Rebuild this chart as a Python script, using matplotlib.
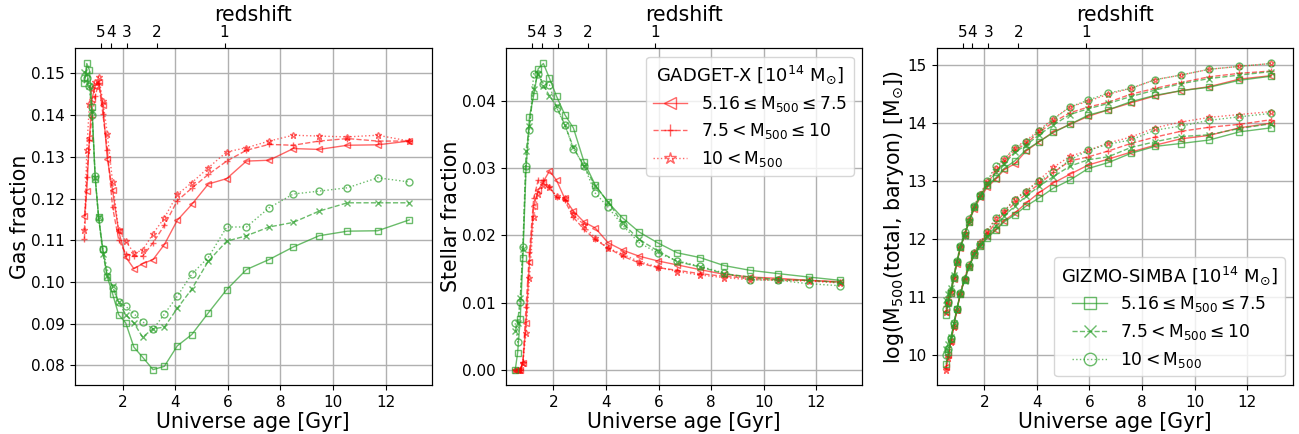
import matplotlib.pyplot as plt

# universe age of each snapshot [Gyr]
age = [0.55, 0.64, 0.74, 0.84, 0.96, 1.09, 1.25, 1.42, 1.62, 1.85, 2.12, 2.43, 2.76,
       3.16, 3.59, 4.08, 4.63, 5.26, 5.96, 6.71, 7.57, 8.49, 9.47, 10.55, 11.70, 12.90]

# redshift ticks on the top axis
z_labels = [5, 4, 3, 2, 1]
z_age = [1.18, 1.55, 2.16, 3.30, 5.88]

# gas fraction
gas_gx_1 = [0.1158, 0.1218, 0.1345, 0.1440, 0.1470, 0.1480, 0.1424, 0.1296, 0.1220, 0.1122, 0.1060, 0.1032, 0.1044,
            0.1054, 0.1090, 0.1148, 0.1186, 0.1235, 0.1248, 0.1290, 0.1292, 0.1320, 0.1318, 0.1328, 0.1329, 0.1338]
gas_gx_2 = [0.1104, 0.1252, 0.1340, 0.1396, 0.1445, 0.1478, 0.1404, 0.1316, 0.1180, 0.1102, 0.1068, 0.1062, 0.1062,
            0.1094, 0.1136, 0.1195, 0.1225, 0.1258, 0.1290, 0.1316, 0.1330, 0.1328, 0.1338, 0.1344, 0.1338, 0.1338]
gas_gx_3 = [0.1124, 0.1316, 0.1428, 0.1464, 0.1480, 0.1492, 0.1434, 0.1356, 0.1240, 0.1124, 0.1098, 0.1070, 0.1076,
            0.1116, 0.1154, 0.1210, 0.1238, 0.1274, 0.1312, 0.1322, 0.1338, 0.1352, 0.1350, 0.1348, 0.1352, 0.1338]
gas_gs_1 = [0.1478, 0.1524, 0.1508, 0.1420, 0.1248, 0.1156, 0.1080, 0.1012, 0.0972, 0.0922, 0.0902, 0.0844, 0.0820,
            0.0790, 0.0798, 0.0847, 0.0874, 0.0926, 0.0982, 0.1030, 0.1054, 0.1084, 0.1111, 0.1122, 0.1123, 0.1149]
gas_gs_2 = [0.1504, 0.1498, 0.1470, 0.1408, 0.1250, 0.1155, 0.1068, 0.1015, 0.0990, 0.0952, 0.0922, 0.0902, 0.0868,
            0.0888, 0.0892, 0.0937, 0.0983, 0.1050, 0.1098, 0.1111, 0.1132, 0.1143, 0.1170, 0.1190, 0.1190, 0.1190]
gas_gs_3 = [0.1490, 0.1488, 0.1470, 0.1400, 0.1255, 0.1152, 0.1080, 0.1030, 0.0986, 0.0952, 0.0942, 0.0924, 0.0905,
            0.0887, 0.0923, 0.0966, 0.1019, 0.1059, 0.1132, 0.1132, 0.1178, 0.1211, 0.1218, 0.1226, 0.1250, 0.1240]

# stellar fraction
star_gx_1 = [0.0, 0.0, 0.0, 0.0010, 0.0070, 0.0160, 0.0243, 0.0267, 0.0280, 0.0296, 0.0282, 0.0255, 0.0236,
             0.0220, 0.0211, 0.0189, 0.0178, 0.0169, 0.0162, 0.0156, 0.0149, 0.0142, 0.0138, 0.0136, 0.0133, 0.0131]
star_gx_2 = [0.0, 0.0, 0.0, 0.0012, 0.0094, 0.0175, 0.0255, 0.0282, 0.0282, 0.0272, 0.0257, 0.0252, 0.0227,
             0.0209, 0.0194, 0.0181, 0.0169, 0.0159, 0.0152, 0.0148, 0.0143, 0.0139, 0.0136, 0.0134, 0.0133, 0.0130]
star_gx_3 = [0.0, 0.0, 0.0, 0.0010, 0.0055, 0.0137, 0.0227, 0.0262, 0.0275, 0.0272, 0.0258, 0.0255, 0.0232,
             0.0215, 0.0196, 0.0181, 0.0172, 0.0161, 0.0153, 0.0146, 0.0141, 0.0137, 0.0134, 0.0133, 0.0132, 0.0129]
star_gs_1 = [0.0, 0.0025, 0.0076, 0.0167, 0.0299, 0.0377, 0.0408, 0.0448, 0.0456, 0.0434, 0.0407, 0.0380, 0.0360,
             0.0310, 0.0275, 0.0249, 0.0226, 0.0205, 0.0189, 0.0174, 0.0167, 0.0155, 0.0148, 0.0143, 0.0138, 0.0133]
star_gs_2 = [0.0057, 0.0070, 0.0107, 0.0180, 0.0326, 0.0363, 0.0418, 0.0441, 0.0423, 0.0408, 0.0392, 0.0365, 0.0331,
             0.0303, 0.0274, 0.0250, 0.0218, 0.0194, 0.0177, 0.0161, 0.0153, 0.0143, 0.0138, 0.0134, 0.0133, 0.0130]
star_gs_3 = [0.0069, 0.0041, 0.0101, 0.0183, 0.0304, 0.0357, 0.0441, 0.0440, 0.0426, 0.0424, 0.0390, 0.0365, 0.0329,
             0.0304, 0.0263, 0.0242, 0.0215, 0.0189, 0.0174, 0.0162, 0.0154, 0.0144, 0.0134, 0.0133, 0.0128, 0.0125]

# log M500 total
tot_gx_1 = [10.75, 10.92, 11.08, 11.32, 11.58, 11.85, 12.07, 12.30, 12.52, 12.72, 12.90, 13.03, 13.20,
            13.30, 13.52, 13.68, 13.85, 13.98, 14.12, 14.23, 14.35, 14.47, 14.56, 14.63, 14.76, 14.82]
tot_gx_2 = [10.85, 11.00, 11.12, 11.35, 11.60, 11.86, 12.06, 12.30, 12.55, 12.75, 12.96, 13.17, 13.33,
            13.53, 13.65, 13.84, 14.02, 14.18, 14.28, 14.36, 14.50, 14.60, 14.70, 14.80, 14.86, 14.90]
tot_gx_3 = [10.75, 10.90, 11.10, 11.35, 11.62, 11.88, 12.10, 12.35, 12.58, 12.78, 13.00, 13.22, 13.38,
            13.58, 13.70, 13.88, 14.08, 14.28, 14.38, 14.50, 14.60, 14.75, 14.83, 14.93, 14.98, 15.03]
tot_gs_1 = [10.70, 10.90, 11.08, 11.33, 11.60, 11.86, 12.08, 12.30, 12.55, 12.74, 12.93, 13.05, 13.22,
            13.35, 13.54, 13.68, 13.84, 13.98, 14.14, 14.23, 14.37, 14.48, 14.56, 14.62, 14.74, 14.81]
tot_gs_2 = [10.95, 11.05, 11.15, 11.38, 11.60, 11.87, 12.05, 12.30, 12.55, 12.75, 12.95, 13.15, 13.30,
            13.50, 13.62, 13.80, 13.97, 14.15, 14.25, 14.34, 14.46, 14.57, 14.68, 14.77, 14.83, 14.89]
tot_gs_3 = [10.80, 10.92, 11.10, 11.35, 11.62, 11.88, 12.12, 12.35, 12.58, 12.77, 13.00, 13.27, 13.38,
            13.57, 13.68, 13.86, 14.07, 14.28, 14.40, 14.52, 14.60, 14.75, 14.83, 14.93, 14.98, 15.03]

# log M500 baryon
bar_gx_1 = [9.80, 10.00, 10.25, 10.50, 10.78, 11.05, 11.30, 11.52, 11.73, 11.88, 12.05, 12.16, 12.32,
            12.45, 12.62, 12.80, 12.97, 13.12, 13.28, 13.38, 13.50, 13.62, 13.73, 13.79, 13.92, 14.00]
bar_gx_2 = [9.78, 9.98, 10.25, 10.50, 10.78, 11.06, 11.32, 11.54, 11.76, 11.92, 12.10, 12.28, 12.45,
            12.62, 12.78, 12.95, 13.15, 13.35, 13.42, 13.52, 13.65, 13.76, 13.86, 13.93, 13.98, 14.06]
bar_gx_3 = [9.75, 9.95, 10.22, 10.48, 10.78, 11.07, 11.33, 11.56, 11.78, 11.95, 12.14, 12.36, 12.48,
            12.70, 12.83, 13.02, 13.24, 13.43, 13.53, 13.66, 13.76, 13.92, 14.02, 14.10, 14.15, 14.20]
bar_gs_1 = [9.85, 10.05, 10.28, 10.52, 10.79, 11.06, 11.30, 11.52, 11.73, 11.88, 12.02, 12.15, 12.30,
            12.42, 12.57, 12.71, 12.88, 13.02, 13.22, 13.32, 13.48, 13.60, 13.65, 13.71, 13.85, 13.92]
bar_gs_2 = [10.10, 10.20, 10.32, 10.55, 10.80, 11.05, 11.28, 11.52, 11.74, 11.90, 12.06, 12.22, 12.40,
            12.57, 12.74, 12.91, 13.08, 13.26, 13.37, 13.42, 13.58, 13.68, 13.77, 13.80, 13.91, 13.99]
bar_gs_3 = [10.00, 10.10, 10.30, 10.55, 10.80, 11.07, 11.32, 11.55, 11.76, 11.92, 12.13, 12.36, 12.48,
            12.68, 12.82, 13.00, 13.15, 13.37, 13.53, 13.64, 13.71, 13.88, 13.95, 14.05, 14.11, 14.17]

bin_labels = [r'$\mathregular{5.16 \leq M_{500} \leq 7.5}$',
              r'$\mathregular{7.5 < M_{500} \leq 10}$',
              r'$\mathregular{10 < M_{500}}$']
gx_style = [('<', '-'), ('+', '--'), ('*', ':')]
gs_style = [('s', '-'), ('x', '--'), ('o', ':')]

fig, axes = plt.subplots(1, 3, figsize=(12.99, 4.34), dpi=100)
plt.subplots_adjust(left=0.0577, right=0.9956, bottom=0.113, top=0.889, wspace=0.208)


def draw(ax, gx, gs, label=True):
    h_gx, h_gs = [], []
    for y, (m, ls), lab in zip(gx, gx_style, bin_labels):
        l, = ax.plot(age, y, color='red', alpha=0.6, marker=m, ls=ls, lw=1, ms=5,
                     mfc='none', label=lab if label else None)
        h_gx.append(l)
    for y, (m, ls), lab in zip(gs, gs_style, bin_labels):
        l, = ax.plot(age, y, color='tab:green', alpha=0.7, marker=m, ls=ls, lw=1, ms=5,
                     mfc='none', label=lab if label else None)
        h_gs.append(l)
    return h_gx, h_gs


draw(axes[0], [gas_gx_1, gas_gx_2, gas_gx_3], [gas_gs_1, gas_gs_2, gas_gs_3])
h_gx, _ = draw(axes[1], [star_gx_1, star_gx_2, star_gx_3], [star_gs_1, star_gs_2, star_gs_3])
_, h_gs = draw(axes[2], [tot_gx_1, tot_gx_2, tot_gx_3], [tot_gs_1, tot_gs_2, tot_gs_3])
draw(axes[2], [bar_gx_1, bar_gx_2, bar_gx_3], [bar_gs_1, bar_gs_2, bar_gs_3], label=False)

ylabels = ['Gas fraction', 'Stellar fraction', r'log(M$_{500}$(total, baryon) [M$_{\odot}$])']
for ax, yl in zip(axes, ylabels):
    ax.set_xlim(0.19, 13.75)
    ax.set_xticks([2, 4, 6, 8, 10, 12])
    ax.grid(True, color='#b0b0b0', lw=1)
    ax.tick_params(labelsize=11)
    ax.set_xlabel('Universe age [Gyr]', fontsize=14.8, labelpad=2)
    ax.set_ylabel(yl, fontsize=14.8, labelpad=1)
    top = ax.twiny()
    top.set_xlim(ax.get_xlim())
    top.set_xticks(z_age)
    top.set_xticklabels(z_labels)
    top.tick_params(labelsize=11, pad=2.5)
    top.set_xlabel('redshift', fontsize=14.8, labelpad=3)

leg_kw = dict(fontsize=12.3, title_fontsize=13, markerscale=1.8, labelspacing=0.45)
axes[1].legend(handles=h_gx, title=r'GADGET-X [$\mathregular{10^{14}\ M_{\odot}}$]', loc='upper right', **leg_kw)
axes[2].legend(handles=h_gs, title=r'GIZMO-SIMBA [$\mathregular{10^{14}\ M_{\odot}}$]', loc='lower right', **leg_kw)

plt.savefig('out.png', dpi=100)
